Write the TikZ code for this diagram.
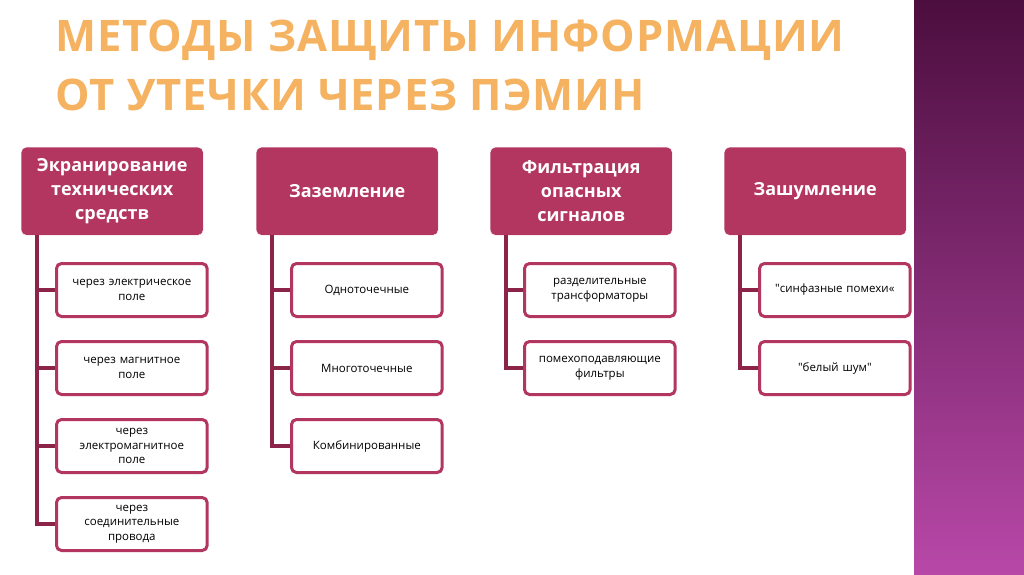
\documentclass[tikz,border=0pt]{standalone}
\usepackage{fontspec}
\setmainfont{Open Sans}
\newfontfamily\titlefont[LetterSpace=2]{Open Sans}
\usetikzlibrary{positioning}
\definecolor{hdrfill}{RGB}{178,54,96}
\definecolor{hdrline}{RGB}{140,36,74}
\definecolor{stripetop}{RGB}{76,14,62}
\definecolor{stripebot}{RGB}{184,72,168}
\definecolor{titlefill}{RGB}{245,178,96}
\tikzset{
  header/.style={draw=white, fill=hdrfill, rounded corners=5pt, minimum width=182pt, minimum height=88pt, align=center, text=white, font=\bfseries\fontsize{18}{24}\selectfont, anchor=north west},
  item/.style={draw=hdrfill, line width=3pt, fill=white, rounded corners=5pt, minimum width=150pt, minimum height=53pt, align=center, text width=144pt, font=\fontsize{11.5}{14.5}\selectfont, anchor=north west},
  branch/.style={draw=hdrline, line width=3.5pt}
}
\begin{document}
\begin{tikzpicture}[x=1pt,y=-1pt]
\useasboundingbox (0,0) rectangle (1024,574);
\fill[white] (0,0) rectangle (1024,574);
\shade[top color=stripetop, bottom color=stripebot] (914,0) rectangle (1024,574);

\node[anchor=west, text=titlefill, font=\titlefont\bfseries\fontsize{43.5}{50}\selectfont] (t1) at (52,40) {МЕТОДЫ ЗАЩИТЫ ИНФОРМАЦИИ};
\node[anchor=west, text=titlefill, font=\titlefont\bfseries\fontsize{43.5}{50}\selectfont] (t2) at (52,95) {ОТ УТЕЧКИ ЧЕРЕЗ ПЭМИН};

% headers
\node[header] (h1) at (21,147) {Экранирование\\технических\\средств};
\node[header] (h2) at (256,147) {Заземление};
\node[header] (h3) at (490,147) {Фильтрация\\опасных\\сигналов};
\node[header] (h4) at (724,147) {Зашумление};

% column 1
\node[item] (a1) at (55,262) {через электрическое\\поле};
\node[item] (a2) at (55,340) {через магнитное\\поле};
\node[item] (a3) at (55,418) {через\\электромагнитное\\поле};
\node[item] (a4) at (55,496) {через\\соединительные\\провода};

% column 2
\node[item] (b1) at (290,262) {Одноточечные};
\node[item] (b2) at (290,340) {Многоточечные};
\node[item] (b3) at (290,418) {Комбинированные};

% column 3
\node[item] (c1) at (523,262) {разделительные\\трансформаторы};
\node[item] (c2) at (523,340) {помехоподавляющие\\фильтры};

% column 4
\node[item] (d1) at (758,262) {\textquotedbl синфазные помехи«};
\node[item] (d2) at (758,340) {\textquotedbl белый шум\textquotedbl};

\draw[branch] ([xshift=16pt]h1.south west) |- (a4.west);
\foreach \n in {a1,a2,a3} \draw[branch] ([xshift=16pt]h1.south west |- \n.west) -- (\n.west);
\draw[branch] ([xshift=16pt]h2.south west) |- (b3.west);
\foreach \n in {b1,b2} \draw[branch] ([xshift=16pt]h2.south west |- \n.west) -- (\n.west);
\draw[branch] ([xshift=16pt]h3.south west) |- (c2.west);
\draw[branch] ([xshift=16pt]h3.south west |- c1.west) -- (c1.west);
\draw[branch] ([xshift=16pt]h4.south west) |- (d2.west);
\draw[branch] ([xshift=16pt]h4.south west |- d1.west) -- (d1.west);
\end{tikzpicture}
\end{document}
